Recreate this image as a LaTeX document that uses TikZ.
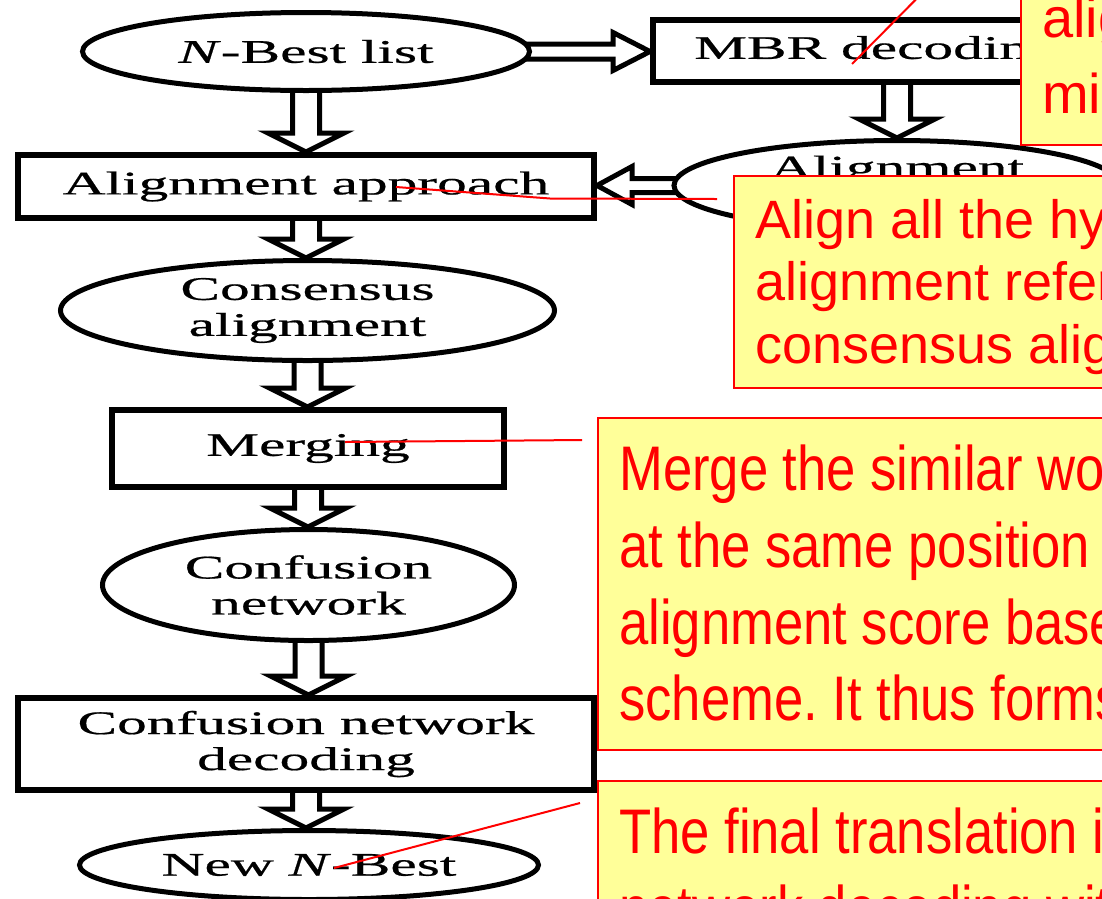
\documentclass[tikz,border=0pt]{standalone}
\usepackage{fontspec}
\setmainfont{Liberation Serif}
\newfontfamily\flowfont[FakeStretch=1.8, FakeBold=0.6]{Liberation Serif}
\newfontfamily\notefont{Liberation Sans}
\newfontfamily\narrowfont[FakeStretch=0.835]{Liberation Sans}
\usetikzlibrary{shapes.geometric,calc,backgrounds}
\frenchspacing

\definecolor{noteyellow}{RGB}{255,255,153}
\definecolor{notered}{RGB}{255,0,0}

% hollow block arrow: from, to, shaft half-width, head half-width, head length
\newcommand\flowarrow[5]{%
  \path[blockarrow] let \p1=(#1), \p2=(#2),
      \n1={atan2(\y2-\y1,\x2-\x1)}, \n2={veclen(\x2-\x1,\y2-\y1)} in
    {[shift={(\p1)}, rotate=\n1]
      (0,#3) -- (\n2-#5,#3) -- (\n2-#5,#4) -- (\n2,0)
      -- (\n2-#5,-#4) -- (\n2-#5,-#3) -- (0,-#3) -- cycle};}

\tikzset{
  flow/.style={fill=white, draw=black, inner sep=0pt, align=center,
    font=\flowfont\fontsize{33}{36}\selectfont},
  stage/.style={flow, rectangle, line width=6pt},
  data/.style={flow, ellipse, line width=5pt},
  blockarrow/.style={draw=black, fill=white, line width=5pt, line join=miter},
  notebox/.style={draw=notered, fill=noteyellow, line width=2pt, inner sep=0pt,
    rectangle, anchor=north west},
  notetext/.style={text=notered, anchor=base west, inner sep=0pt},
  wide/.style={notetext, font=\notefont\fontsize{54}{63}\selectfont},
  narrow/.style={notetext, font=\narrowfont\fontsize{63}{77}\selectfont},
  pointer/.style={draw=notered, line width=2pt},
}

\begin{document}
\begin{tikzpicture}[x=1pt, y=-1pt]
\useasboundingbox (0,0) rectangle (1102,898);
\clip (0,0) rectangle (1102,898);
\begin{pgfonlayer}{background}
  \fill[white] (0,0) rectangle (1102,898);
\end{pgfonlayer}

% flow chart
\node[data]  (nbest)     at (306,51.5)  [minimum width=447pt, minimum height=78pt] {\textit{N}-Best list};
\node[stage] (mbr)       at (876.5,51)  [minimum width=447pt, minimum height=62pt] {MBR decoding};
\node[data]  (aref)      at (897,185.5) [minimum width=446pt, minimum height=90pt,
                                         text height=22pt, text depth=36pt] {Alignment};
\node[stage] (approach)  at (306,186.5) [minimum width=576pt, minimum height=63pt] {Alignment approach};
\node[data]  (consensus) at (307.5,310.5) [minimum width=494pt, minimum height=100pt] {Consensus\\alignment};
\node[stage] (merging)   at (308,448.5) [minimum width=392pt, minimum height=77pt] {Merging};
\node[data]  (confusion) at (308.5,585) [minimum width=412pt, minimum height=111pt] {Confusion\\network};
\node[stage] (cndec)     at (306,744)   [minimum width=576pt, minimum height=92pt] {Confusion network\\decoding};
\node[data]  (newnbest)  at (309,865)   [minimum width=459pt, minimum height=69pt] {New \textit{N}-Best};

% block arrows, behind the shapes they join
\begin{pgfonlayer}{background}
  \flowarrow{nbest.center}{nbest.center -| mbr.west}{7.5}{19}{37}
  \flowarrow{aref.center |- mbr.center}{aref.north}{13.5}{38}{19}
  \flowarrow{aref.center}{aref.center -| approach.east}{7}{19}{35}
  \flowarrow{nbest.center}{nbest.center |- approach.north}{13.5}{38}{19}
  \flowarrow{approach.center}{approach.center |- consensus.north}{13.5}{38}{19}
  \flowarrow{consensus.center}{consensus.center |- merging.north}{13.5}{38}{19}
  \flowarrow{merging.center}{merging.center |- confusion.north}{13.5}{38}{19}
  \flowarrow{confusion.center}{confusion.center |- cndec.north}{13.5}{38}{19}
  \flowarrow{cndec.center}{cndec.center |- newnbest.north}{13.5}{38}{19}
\end{pgfonlayer}

% notes
\node[notebox, minimum width=120pt, minimum height=154pt] (mbrnote) at (1020,-10) {};
\node[notetext, font=\notefont\fontsize{56}{66}\selectfont] (mbrnote1) at (1042,37) {alignment};
\node[notetext, font=\notefont\fontsize{56}{66}\selectfont] (mbrnote2) at (1042,113) {minimum};

\node[notebox, minimum width=400pt, minimum height=212pt] (alignnote) at (733,175) {};
\node[wide] (alignnote1) at (755,238) {Align all the hypotheses};
\node[wide] (alignnote2) at (755,300) {alignment reference};
\node[wide] (alignnote3) at (755,363) {consensus alignment};

\node[notebox, minimum width=540pt, minimum height=332pt] (mergenote) at (597,417) {};
\node[narrow] (mergenote1) at (619,490) {Merge the similar words};
\node[narrow] (mergenote2) at (619,567) {at the same position in};
\node[narrow] (mergenote3) at (619,644) {alignment score based};
\node[narrow] (mergenote4) at (619,720) {scheme. It thus forms};

\node[notebox, minimum width=540pt, minimum height=160pt] (finalnote) at (597,780) {};
\node[narrow] (finalnote1) at (619,853) {The final translation is};
\node[narrow] (finalnote2) at (619,930) {network decoding with};

% pointers from the chart to the notes
\coordinate (mbrpin) at (852,64);
\coordinate (mbrend) at (945,-30);
\coordinate (apppin) at (396,187);
\coordinate (appbend) at (550,198.5);
\coordinate (append) at (717,199);
\coordinate (mrgpin) at (345,442);
\coordinate (mrgend) at (582,440);
\coordinate (newpin) at (334,868);
\coordinate (newend) at (580,803);
\draw[pointer] (mbrpin) -- (mbrend);
\draw[pointer] (apppin) -- (appbend) -- (append);
\draw[pointer] (mrgpin) -- (mrgend);
\draw[pointer] (newpin) -- (newend);
\end{tikzpicture}
\end{document}
